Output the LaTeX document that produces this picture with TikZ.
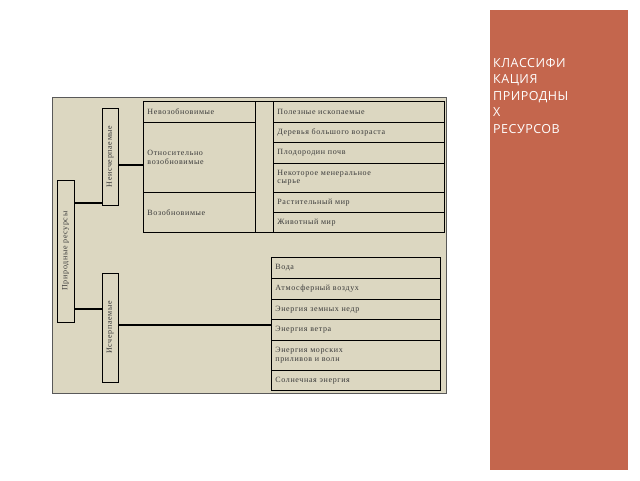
\documentclass[tikz,border=0pt]{standalone}
\usepackage{fontspec}
\setmainfont{Liberation Serif}[LetterSpace=8]
\newfontfamily\titlefont{Open Sans}[LetterSpace=4]
\begin{document}
\begin{tikzpicture}[x=1pt,y=-1pt,
  cell/.style 2 args={draw=black,line width=0.8pt,fill=panel,anchor=north west,
    minimum width=#1,minimum height=#2,text width=#1-8pt,inner sep=4pt,align=left,
    font=\fontsize{8}{8.5}\selectfont,text=textc},
  vbox/.style 2 args={draw=black,line width=0.8pt,fill=panel,rotate=90,
    minimum width=#2,minimum height=#1,inner sep=1pt,
    font=\fontsize{8}{9}\selectfont,text=textc},
  link/.style={line width=1.8pt}]
\definecolor{panel}{HTML}{DCD7C1}
\definecolor{textc}{HTML}{3A3A3A}
\definecolor{redp}{HTML}{C4664D}
\useasboundingbox (0,0) rectangle (640,480);
\fill[white] (0,0) rectangle (640,480);
\node[draw=gray!70!black,line width=1pt,fill=panel,anchor=north west,minimum width=394,minimum height=296,inner sep=0] (frame) at (52,97) {};
% red panel
\node[fill=redp,anchor=north west,minimum width=138,minimum height=460,inner sep=0] (red) at (490,10) {};
\node[anchor=north west,text=white,align=left,inner sep=0,font=\titlefont\fontsize{12.5}{16.5}\selectfont] (title) at (493,58) {КЛАССИФИ\\КАЦИЯ\\ПРИРОДНЫ\\Х\\РЕСУРСОВ};
% vertical boxes
\node[vbox={17}{142}] (pr) at (65.5,251) {Природные ресурсы};
\node[vbox={16}{97}] (ne) at (110,156.5) {Неисчерпаемые};
\node[vbox={16}{109}] (is) at (110,327.5) {Исчерпаемые};
% upper table
\node[cell={112}{21}] (c1) at (143,101) {Невозобновимые};
\node[cell={112}{70}] (c2) at (143,122) {Относительно\\возобновимые};
\node[cell={112}{40}] (c3) at (143,192) {Возобновимые};
\node[cell={18}{131},text width=10pt] (gap) at (255,101) {};
\node[cell={171}{21}] (r1) at (273,101) {Полезные ископаемые};
\node[cell={171}{20}] (r2) at (273,122) {Деревья большого возраста};
\node[cell={171}{21}] (r3) at (273,142) {Плодородин почв};
\node[cell={171}{29}] (r4) at (273,163) {Некоторое менеральное\\сырье};
\node[cell={171}{20}] (r5) at (273,192) {Растительный мир};
\node[cell={171}{20}] (r6) at (273,212) {Животный мир};
% lower table
\node[cell={169}{21}] (l1) at (271,257) {Вода};
\node[cell={169}{21}] (l2) at (271,278) {Атмосферный воздух};
\node[cell={169}{20}] (l3) at (271,299) {Энергия земных недр};
\node[cell={169}{21}] (l4) at (271,319) {Энергия ветра};
\node[cell={169}{30}] (l5) at (271,340) {Энергия морских\\приливов и волн};
\node[cell={169}{20}] (l6) at (271,370) {Солнечная энергия};
% connectors
\draw[link] (pr.south |- 0,203) -- (ne.north |- 0,203);
\draw[link] (pr.south |- 0,309) -- (is.north |- 0,309);
\draw[link] (ne.south |- 0,165) -- (c2.west |- 0,165);
\draw[link] (is.south |- 0,325) -- (l4.west |- 0,325);
\end{tikzpicture}
\end{document}
